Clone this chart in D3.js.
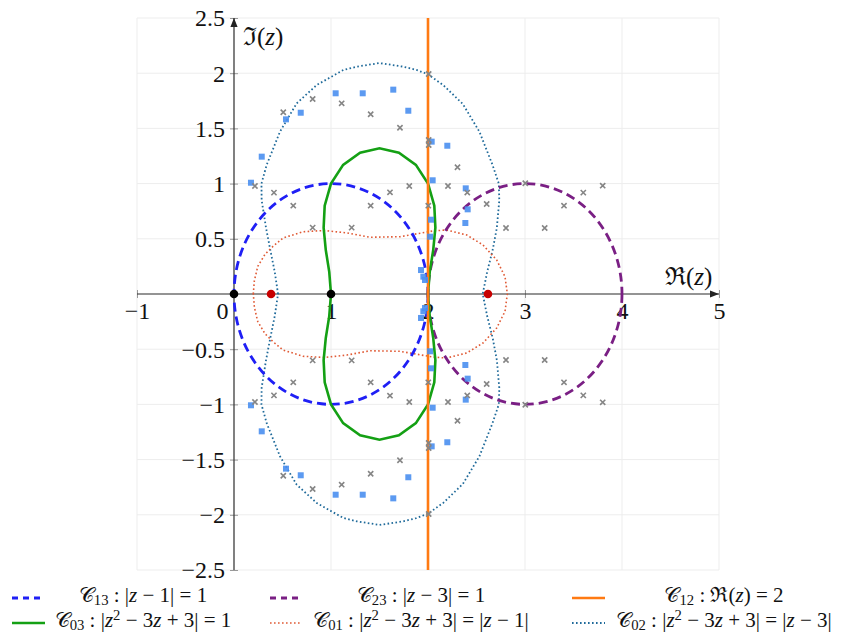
<!DOCTYPE html>
<html><head><meta charset="utf-8">
<script src="https://cdn.jsdelivr.net/npm/d3@7"></script>
<style>body{margin:0;background:#fff} text{font-family:'Liberation Serif','DejaVu Serif',serif}</style>
</head><body>
<svg id="c" width="848" height="635"></svg>
<script>
// ---------- data ----------
const xTickValues = [-1, 0, 1, 2, 3, 4, 5];
const xTickLabels = ["−1", "0", "1", "2", "3", "4", "5"];
const yTickValues = [-2.5, -2, -1.5, -1, -0.5, 0.5, 1, 1.5, 2, 2.5];
const yTickLabels = ["−2.5", "−2", "−1.5", "−1", "−0.5", "0.5", "1", "1.5", "2", "2.5"];
const gridXValues = [-1, 0, 1, 2, 3, 4, 5];
const gridYValues = [-2.5, -2, -1.5, -1, -0.5, 0, 0.5, 1, 1.5, 2, 2.5];

const circleC13 = {cx: 1, cy: 0, r: 1};
const circleC23 = {cx: 3, cy: 0, r: 1};
const lineC12 = 2;

const curveC03 = [
  [1.0,0],[0.982,0.2],[0.946,0.4],[0.924,0.6],[0.935,0.8],[1.0,1.0],[1.125,1.17],[1.3,1.28],[1.5,1.32],
  [1.7,1.28],[1.875,1.17],[2.0,1.0],[2.065,0.8],[2.076,0.6],[2.054,0.4],[2.018,0.2],[2.0,0],
  [2.018,-0.2],[2.054,-0.4],[2.076,-0.6],[2.065,-0.8],[2.0,-1.0],[1.875,-1.17],[1.7,-1.28],[1.5,-1.32],
  [1.3,-1.28],[1.125,-1.17],[1.0,-1.0],[0.935,-0.8],[0.924,-0.6],[0.946,-0.4],[0.982,-0.2]
];
const curveC01 = [
  [0.199,0],[0.21,0.12],[0.245,0.25],[0.32,0.36],[0.4,0.43],[0.505,0.507],[0.711,0.564],[0.93,0.575],
  [1.165,0.553],[1.4,0.514],[1.711,0.519],[2.052,0.571],[2.19,0.58],[2.4,0.534],[2.567,0.444],
  [2.708,0.308],[2.794,0.157],[2.818,0],
  [2.794,-0.157],[2.708,-0.308],[2.567,-0.444],[2.4,-0.534],[2.19,-0.58],[2.052,-0.571],[1.711,-0.519],
  [1.4,-0.514],[1.165,-0.553],[0.93,-0.575],[0.711,-0.564],[0.505,-0.507],[0.4,-0.43],[0.32,-0.36],
  [0.245,-0.25],[0.21,-0.12]
];
const curveC02 = [
  [0.454,0],[0.42,0.2],[0.374,0.4],[0.33,0.6],[0.285,0.85],[0.283,1.0],[0.337,1.17],[0.474,1.47],
  [0.646,1.727],[0.853,1.893],[1.127,2.029],[1.265,2.059],[1.5,2.092],[1.74,2.06],[1.88,2.03],
  [2.0,1.99],[2.16,1.89],[2.36,1.72],[2.53,1.47],[2.665,1.17],[2.73,1.0],[2.735,0.85],[2.71,0.6],
  [2.667,0.4],[2.61,0.2],[2.564,0],
  [2.61,-0.2],[2.667,-0.4],[2.71,-0.6],[2.735,-0.85],[2.73,-1.0],[2.665,-1.17],[2.53,-1.47],
  [2.36,-1.72],[2.16,-1.89],[2.0,-1.99],[1.88,-2.03],[1.74,-2.06],[1.5,-2.092],[1.265,-2.059],
  [1.127,-2.029],[0.853,-1.893],[0.646,-1.727],[0.474,-1.47],[0.337,-1.17],[0.283,-1.0],[0.285,-0.85],
  [0.33,-0.6],[0.374,-0.4],[0.42,-0.2]
];

const blueSquares = [
  [0.286,1.244],[0.175,1.008],[0.536,1.582],[0.688,1.642],[1.048,1.818],[1.327,1.818],[1.642,1.851],
  [1.797,1.66],[2.038,1.38],[2.199,1.343],[2.048,1.03],[2.389,0.957],[2.409,0.767],[2.385,0.643],
  [2.031,0.673],[2.021,0.519],[1.928,0.217],[1.952,0.157],[1.969,0.127],
  [0.286,-1.244],[0.175,-1.008],[0.536,-1.582],[0.688,-1.642],[1.048,-1.818],[1.327,-1.818],[1.642,-1.851],
  [1.797,-1.66],[2.038,-1.38],[2.199,-1.343],[2.048,-1.03],[2.389,-0.957],[2.409,-0.767],[2.385,-0.643],
  [2.031,-0.673],[2.021,-0.519],[1.928,-0.217],[1.952,-0.157],[1.969,-0.127]
];
const grayCrosses = [
  [0.216,0.978],[0.412,0.918],[0.508,1.646],[0.811,1.766],[1.11,1.727],[1.409,1.628],[1.711,1.506],
  [2.007,1.993],[2.007,1.395],[2.007,1.35],[2.304,1.148],[1.807,0.978],[1.608,0.921],[2.206,0.978],
  [2.405,0.919],[2.605,0.815],[3.003,1.003],[3.801,0.981],[3.601,0.918],[3.402,0.8],[2.804,0.598],
  [3.203,0.598],[2.003,0.8],[0.611,0.8],[1.409,0.8],[0.811,0.601],[1.213,0.601],
  [0.216,-0.978],[0.412,-0.918],[0.508,-1.646],[0.811,-1.766],[1.11,-1.727],[1.409,-1.628],[1.711,-1.506],
  [2.007,-1.993],[2.007,-1.395],[2.007,-1.35],[2.304,-1.148],[1.807,-0.978],[1.608,-0.921],[2.206,-0.978],
  [2.405,-0.919],[2.605,-0.815],[3.003,-1.003],[3.801,-0.981],[3.601,-0.918],[3.402,-0.8],[2.804,-0.598],
  [3.203,-0.598],[2.003,-0.8],[0.611,-0.8],[1.409,-0.8],[0.811,-0.601],[1.213,-0.601]
];
const blackDots = [0, 1];
const redDots = [0.382, 2.618];

const legendKeys = ["C13", "C23", "C12", "C03", "C01", "C02"];
const legendLabels = [
  "𝒞_{13} : |z − 1| = 1",
  "𝒞_{23} : |z − 3| = 1",
  "𝒞_{12} : ℜ(z) = 2",
  "𝒞_{03} : |z^{2} − 3z + 3| = 1",
  "𝒞_{01} : |z^{2} − 3z + 3| = |z − 1|",
  "𝒞_{02} : |z^{2} − 3z + 3| = |z − 3|"
];

// ---------- styles ----------
const styles = {
  C13: {color: "#1f1ff5", width: 2.8, dash: "9,5"},
  C23: {color: "#7a1f84", width: 2.8, dash: "9,5"},
  C12: {color: "#ff7a12", width: 2.6, dash: null},
  C03: {color: "#14a014", width: 2.6, dash: null},
  C01: {color: "#e05a35", width: 1.6, dash: "1.6,2.4"},
  C02: {color: "#1f6a9a", width: 1.8, dash: "1.6,2.4"}
};
const FONT = "'Liberation Serif','DejaVu Serif',serif";

const svg = d3.select("#c");
const x = d3.scaleLinear().domain([-1, 5]).range([137, 719]);
const y = d3.scaleLinear().domain([-2.5, 2.5]).range([570, 18]);

// grid
const grid = svg.append("g");
grid.selectAll("line.gx").data(gridXValues).join("line")
  .attr("x1", d => x(d)).attr("x2", d => x(d)).attr("y1", y(-2.5)).attr("y2", y(2.5))
  .attr("stroke", "#ededed").attr("stroke-width", 1);
grid.selectAll("line.gy").data(gridYValues).join("line")
  .attr("x1", x(-1)).attr("x2", x(5)).attr("y1", d => y(d)).attr("y2", d => y(d))
  .attr("stroke", "#ededed").attr("stroke-width", 1);

// arrow marker
const defs = svg.append("defs");
defs.append("marker").attr("id", "arr").attr("viewBox", "0 0 10 10")
  .attr("refX", 10).attr("refY", 5).attr("markerWidth", 9).attr("markerHeight", 9)
  .attr("markerUnits", "userSpaceOnUse").attr("orient", "auto")
  .append("path").attr("d", "M0,1 L10,5 L0,9 Z").attr("fill", "#222");

// axes (ticks + labels)
const gx = svg.append("g").attr("transform", `translate(0,${y(0)})`)
  .call(d3.axisBottom(x).tickValues(xTickValues).tickFormat((d, i) => xTickLabels[i]).tickSize(4));
gx.attr("font-family", null);
gx.select(".domain").remove();
gx.selectAll(".tick line").attr("y1", -4).attr("y2", 4).attr("stroke", "#999");
gx.selectAll(".tick text").style("font-family", FONT).attr("font-size", 24).attr("fill", "#111")
  .attr("y", 25).attr("dy", 0)
  .attr("x", d => d === 0 ? -12 : 0);

const gy = svg.append("g").attr("transform", `translate(${x(0)},0)`)
  .call(d3.axisLeft(y).tickValues(yTickValues).tickFormat((d, i) => yTickLabels[i]).tickSize(4));
gy.attr("font-family", null);
gy.select(".domain").remove();
gy.selectAll(".tick line").attr("x1", -4).attr("x2", 4).attr("stroke", "#999");
gy.selectAll(".tick text").style("font-family", FONT).attr("font-size", 24).attr("fill", "#111")
  .attr("x", -9).attr("dy", "0.33em");

// axis lines
svg.append("line").attr("x1", x(-1)).attr("x2", x(5)).attr("y1", y(0)).attr("y2", y(0))
  .attr("stroke", "#333").attr("stroke-width", 1.2).attr("marker-end", "url(#arr)");
svg.append("line").attr("x1", x(0)).attr("x2", x(0)).attr("y1", y(-2.5)).attr("y2", y(2.5))
  .attr("stroke", "#333").attr("stroke-width", 1.2).attr("marker-end", "url(#arr)");

// rich text helper
function richText(sel, str, size) {
  const re = /(_\{[^}]*\}|\^\{[^}]*\}|z)/g;
  const parts = str.split(re).filter(s => s !== "");
  let shift = 0;
  parts.forEach(p => {
    let t, dy = 0, fs = size, it = false;
    if (p.startsWith("_{")) { t = p.slice(2, -1); dy = 0.16 * size; fs = size * 0.7; }
    else if (p.startsWith("^{")) { t = p.slice(2, -1); dy = -0.34 * size; fs = size * 0.7; }
    else if (p === "z") { t = "z"; it = true; }
    else t = p;
    const ts = sel.append("tspan").text(t).attr("font-size", fs).attr("dy", dy - shift);
    if (it) ts.attr("font-style", "italic");
    shift = dy;
  });
  if (shift !== 0) sel.append("tspan").text("\u200b").attr("dy", -shift);
}

// axis labels
richText(svg.append("text").attr("x", 243).attr("y", 45).style("font-family", FONT).attr("fill", "#111"), "ℑ(z)", 25);
richText(svg.append("text").attr("x", 665).attr("y", 285).style("font-family", FONT).attr("fill", "#111"), "ℜ(z)", 25);

// curves
const line = d3.line().x(d => x(d[0])).y(d => y(d[1])).curve(d3.curveLinearClosed);
function styleLine(sel, s) {
  sel.attr("fill", "none").attr("stroke", s.color).attr("stroke-width", s.width);
  if (s.dash) sel.attr("stroke-dasharray", s.dash);
  return sel;
}
styleLine(svg.append("path").datum(curveC02).attr("d", line), styles.C02);
styleLine(svg.append("path").datum(curveC01).attr("d", line), styles.C01);
styleLine(svg.append("ellipse").datum(circleC13)
  .attr("cx", d => x(d.cx)).attr("cy", d => y(d.cy))
  .attr("rx", d => x(d.cx + d.r) - x(d.cx)).attr("ry", d => y(d.cy) - y(d.cy + d.r)), styles.C13);
styleLine(svg.append("ellipse").datum(circleC23)
  .attr("cx", d => x(d.cx)).attr("cy", d => y(d.cy))
  .attr("rx", d => x(d.cx + d.r) - x(d.cx)).attr("ry", d => y(d.cy) - y(d.cy + d.r)), styles.C23);
styleLine(svg.append("path").datum(curveC03).attr("d", line), styles.C03);
styleLine(svg.append("line").attr("x1", x(lineC12)).attr("x2", x(lineC12))
  .attr("y1", y(-2.5)).attr("y2", y(2.5)), styles.C12);

// scatter
svg.append("g").selectAll("rect").data(blueSquares).join("rect")
  .attr("x", d => x(d[0]) - 3).attr("y", d => y(d[1]) - 3).attr("width", 6).attr("height", 6)
  .attr("fill", "#4a8ff0").attr("fill-opacity", 0.9);
svg.append("g").selectAll("path").data(grayCrosses).join("path")
  .attr("d", d => { const cx = x(d[0]), cy = y(d[1]), s = 2.6;
    return `M${cx-s},${cy-s}L${cx+s},${cy+s}M${cx-s},${cy+s}L${cx+s},${cy-s}`; })
  .attr("stroke", "#858585").attr("stroke-width", 1.6);

// dots
svg.append("g").selectAll("circle").data(blackDots).join("circle")
  .attr("cx", d => x(d)).attr("cy", y(0)).attr("r", 4.3).attr("fill", "#000");
svg.append("g").selectAll("circle").data(redDots).join("circle")
  .attr("cx", d => x(d)).attr("cy", y(0)).attr("r", 4.3).attr("fill", "#c80000");

// legend
const legCols = [{x0: 12, x1: 45, tc: 143}, {x0: 270, x1: 301, tc: 421}, {x0: 572, x1: 605, tc: 724}];
const legRows = [598, 623];
legendKeys.forEach((k, i) => {
  const col = legCols[i % 3], ry = legRows[Math.floor(i / 3)];
  const s = styles[k];
  const ln = svg.append("line").attr("x1", col.x0).attr("x2", col.x1).attr("y1", ry).attr("y2", ry)
    .attr("stroke", s.color).attr("stroke-width", s.width);
  if (s.dash) ln.attr("stroke-dasharray", s.dash === "9,5" ? "6,5" : s.dash);
  const t = svg.append("text").attr("x", col.tc).attr("y", ry + 4).attr("text-anchor", "middle")
    .style("font-family", FONT).attr("fill", "#111");
  richText(t, legendLabels[i], 21);
});
</script>
</body></html>
